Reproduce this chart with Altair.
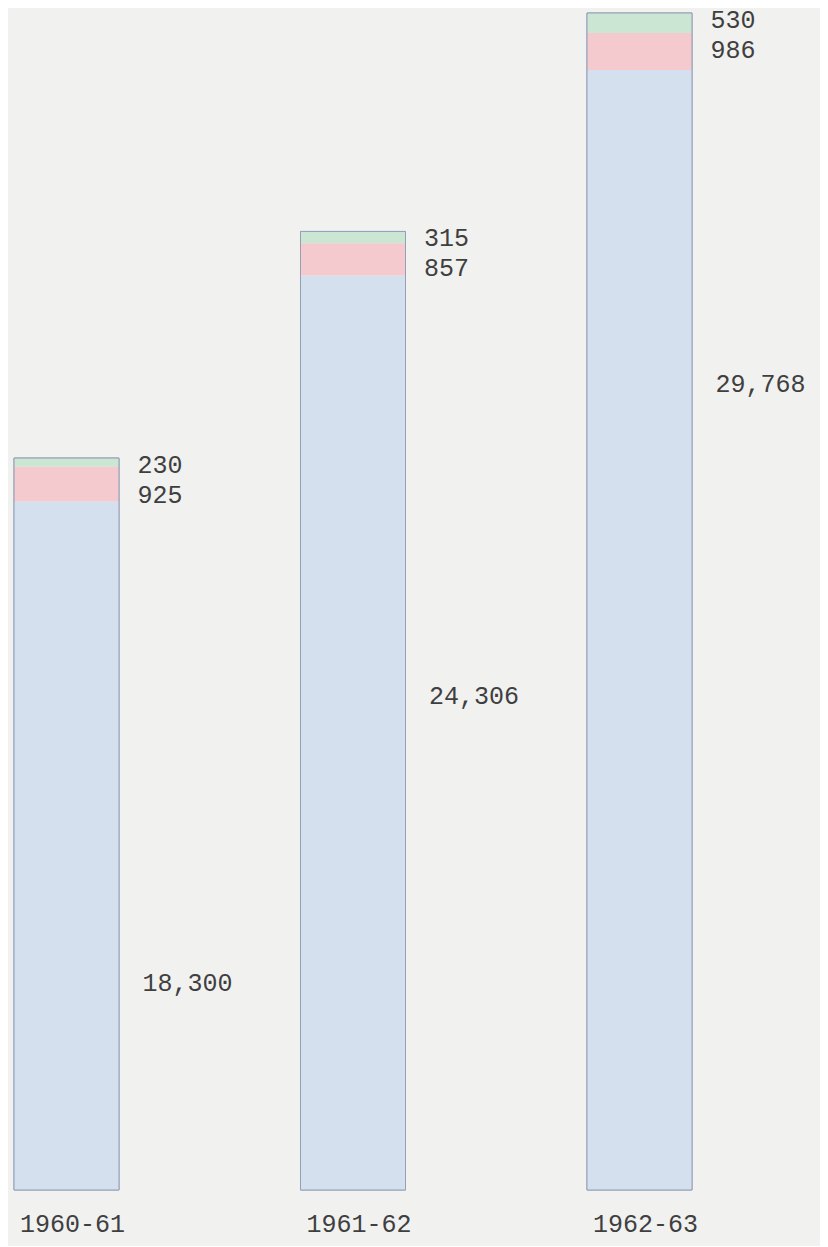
import altair as alt
import pandas as pd

# ---- data ----
years = ["1960-61", "1961-62", "1962-63"]
blue_vals = [18300, 24306, 29768]
red_vals = [925, 857, 986]
green_vals = [230, 315, 530]

# layout helpers (label placement within the blue segment, as fraction of its height)
blue_label_frac = [0.30, 0.54, 0.72]

segments = []
for i, yr in enumerate(years):
    b, r, g = blue_vals[i], red_vals[i], green_vals[i]
    segments.append({"year": yr, "seg": "blue", "start": 0, "end": b})
    segments.append({"year": yr, "seg": "red", "start": b, "end": b + r})
    segments.append({"year": yr, "seg": "green", "start": b + r, "end": b + r + g})
seg_df = pd.DataFrame(segments)

tot_df = pd.DataFrame({
    "year": years,
    "blue": blue_vals,
    "red": red_vals,
    "green": green_vals,
})
tot_df["total"] = tot_df["blue"] + tot_df["red"] + tot_df["green"]
tot_df["blue_pos"] = [v * f for v, f in zip(blue_vals, blue_label_frac)]
tot_df["blue_txt"] = [f"{v:,}" for v in blue_vals]
tot_df["red_txt"] = [str(v) for v in red_vals]
tot_df["green_txt"] = [str(v) for v in green_vals]
tot_df["zero"] = 0

ymax = max(tot_df["total"])
xscale = alt.Scale(domain=years, range=[6, 684], paddingInner=0.6335, paddingOuter=0)
yscale = alt.Scale(domain=[0, ymax], range=[1182, 5], nice=False, zero=True)

X = alt.X("year:N", scale=xscale, axis=None, sort=years)

bars = alt.Chart(seg_df).mark_bar(opacity=0.95).encode(
    x=X,
    y=alt.Y("start:Q", scale=yscale, axis=None),
    y2="end:Q",
    color=alt.Color("seg:N",
                    scale=alt.Scale(domain=["blue", "red", "green"],
                                    range=["#d3deee", "#f3c7cb", "#c9e5d2"]),
                    legend=None),
)

outline = alt.Chart(tot_df).mark_bar(fillOpacity=0, stroke="#94a0b8", strokeWidth=1).encode(
    x=X,
    y=alt.Y("zero:Q", scale=yscale, axis=None),
    y2="total:Q",
)

font = "Liberation Mono"
txt_kw = dict(font=font, fontSize=25, color="#3f3f3f", align="left", baseline="middle")

green_lbl = alt.Chart(tot_df).mark_text(dx=71, dy=7, **txt_kw).encode(
    x=X, y=alt.Y("total:Q", scale=yscale, axis=None), text="green_txt:N")
red_lbl = alt.Chart(tot_df).mark_text(dx=71, dy=37, **txt_kw).encode(
    x=X, y=alt.Y("total:Q", scale=yscale, axis=None), text="red_txt:N")
blue_lbl = alt.Chart(tot_df).mark_text(dx=76, dy=0, **txt_kw).encode(
    x=X, y=alt.Y("blue_pos:Q", scale=yscale, axis=None), text="blue_txt:N")

year_lbl = alt.Chart(tot_df).mark_text(
    dx=6, dy=34, font=font, fontSize=25, color="#3f3f3f", align="center", baseline="middle"
).encode(x=X, y=alt.Y("zero:Q", scale=yscale, axis=None), text="year:N")

chart = alt.layer(outline, bars, outline, green_lbl, red_lbl, blue_lbl, year_lbl).properties(
    width=812, height=1238,
    autosize=alt.AutoSizeParams(type="none"),
    padding=0,
    background="#f1f1f0",
).configure_view(stroke=None)

chart.save("out.html", embed_options={"renderer": "svg", "actions": False})
